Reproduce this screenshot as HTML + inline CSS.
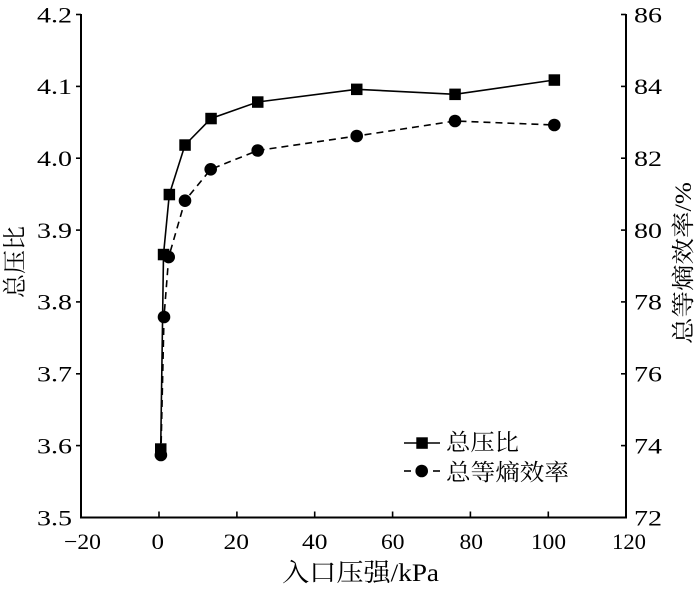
<!DOCTYPE html>
<html>
<head>
<meta charset="utf-8">
<style>
  html, body { margin:0; padding:0; background:#fff; }
  svg { display:block; }
  text { font-family: "Liberation Serif", "Noto Serif CJK SC", serif; fill:#000; }
</style>
</head>
<body>
<svg width="700" height="591" viewBox="0 0 700 591" xmlns="http://www.w3.org/2000/svg">
  <rect width="700" height="591" fill="#fff"/>

  <!-- axes -->
  <g stroke="#000" stroke-width="2" fill="none">
    <line x1="81" y1="14" x2="81" y2="518.5"/>
    <line x1="80" y1="517.5" x2="627" y2="517.5"/>
    <line x1="626" y1="14" x2="626" y2="518.5"/>
  </g>

  <!-- left ticks (outward) -->
  <g stroke="#000" stroke-width="1.6">
    <line x1="76" y1="14.5" x2="81" y2="14.5"/>
    <line x1="76" y1="86.4" x2="81" y2="86.4"/>
    <line x1="76" y1="158.2" x2="81" y2="158.2"/>
    <line x1="76" y1="230.1" x2="81" y2="230.1"/>
    <line x1="76" y1="301.9" x2="81" y2="301.9"/>
    <line x1="76" y1="373.8" x2="81" y2="373.8"/>
    <line x1="76" y1="445.6" x2="81" y2="445.6"/>
  </g>
  <!-- right ticks (inward) -->
  <g stroke="#000" stroke-width="1.6">
    <line x1="621" y1="14.5" x2="626" y2="14.5"/>
    <line x1="621" y1="86.4" x2="626" y2="86.4"/>
    <line x1="621" y1="158.2" x2="626" y2="158.2"/>
    <line x1="621" y1="230.1" x2="626" y2="230.1"/>
    <line x1="621" y1="301.9" x2="626" y2="301.9"/>
    <line x1="621" y1="373.8" x2="626" y2="373.8"/>
    <line x1="621" y1="445.6" x2="626" y2="445.6"/>
  </g>
  <!-- bottom ticks (inward) -->
  <g stroke="#000" stroke-width="1.6">
    <line x1="159" y1="511.5" x2="159" y2="517.5"/>
    <line x1="236.9" y1="511.5" x2="236.9" y2="517.5"/>
    <line x1="314.7" y1="511.5" x2="314.7" y2="517.5"/>
    <line x1="392.6" y1="511.5" x2="392.6" y2="517.5"/>
    <line x1="470.4" y1="511.5" x2="470.4" y2="517.5"/>
    <line x1="548.3" y1="511.5" x2="548.3" y2="517.5"/>
  </g>

  <!-- left tick labels -->
  <g font-size="22.5">
    <text x="37" y="22.3" textLength="35" lengthAdjust="spacingAndGlyphs">4.2</text>
    <text x="37" y="94.2" textLength="35" lengthAdjust="spacingAndGlyphs">4.1</text>
    <text x="37" y="166" textLength="35" lengthAdjust="spacingAndGlyphs">4.0</text>
    <text x="37" y="237.9" textLength="35" lengthAdjust="spacingAndGlyphs">3.9</text>
    <text x="37" y="309.7" textLength="35" lengthAdjust="spacingAndGlyphs">3.8</text>
    <text x="37" y="381.6" textLength="35" lengthAdjust="spacingAndGlyphs">3.7</text>
    <text x="37" y="453.4" textLength="35" lengthAdjust="spacingAndGlyphs">3.6</text>
    <text x="37" y="525.3" textLength="35" lengthAdjust="spacingAndGlyphs">3.5</text>
  </g>

  <!-- right tick labels -->
  <g font-size="22.5">
    <text x="634" y="22.3" textLength="28" lengthAdjust="spacingAndGlyphs">86</text>
    <text x="634" y="94.2" textLength="28" lengthAdjust="spacingAndGlyphs">84</text>
    <text x="634" y="166" textLength="28" lengthAdjust="spacingAndGlyphs">82</text>
    <text x="634" y="237.9" textLength="28" lengthAdjust="spacingAndGlyphs">80</text>
    <text x="634" y="309.7" textLength="28" lengthAdjust="spacingAndGlyphs">78</text>
    <text x="634" y="381.6" textLength="28" lengthAdjust="spacingAndGlyphs">76</text>
    <text x="634" y="453.4" textLength="28" lengthAdjust="spacingAndGlyphs">74</text>
    <text x="634" y="525.3" textLength="28" lengthAdjust="spacingAndGlyphs">72</text>
  </g>

  <!-- bottom tick labels -->
  <g font-size="22.5">
    <text x="64" y="549" textLength="37" lengthAdjust="spacingAndGlyphs">−20</text>
    <text x="151.5" y="549" textLength="12.5" lengthAdjust="spacingAndGlyphs">0</text>
    <text x="223.5" y="549" textLength="25.5" lengthAdjust="spacingAndGlyphs">20</text>
    <text x="302" y="549" textLength="25.5" lengthAdjust="spacingAndGlyphs">40</text>
    <text x="381" y="549" textLength="23.5" lengthAdjust="spacingAndGlyphs">60</text>
    <text x="459.5" y="549" textLength="23.5" lengthAdjust="spacingAndGlyphs">80</text>
    <text x="531" y="549" textLength="35" lengthAdjust="spacingAndGlyphs">100</text>
    <text x="612" y="549" textLength="34" lengthAdjust="spacingAndGlyphs">120</text>
  </g>

  <!-- axis titles -->
  <text x="282" y="581" font-size="25" textLength="157" lengthAdjust="spacingAndGlyphs">入口压强/kPa</text>
  <text transform="translate(23,262) rotate(-90)" text-anchor="middle" font-size="24" textLength="72" lengthAdjust="spacingAndGlyphs">总压比</text>
  <text transform="translate(691,263) rotate(-90)" text-anchor="middle" font-size="23" textLength="162" lengthAdjust="spacingAndGlyphs">总等熵效率/%</text>

  <!-- series lines -->
  <polyline fill="none" stroke="#000" stroke-width="1.6"
    points="160.7,449 163.5,254.5 169.3,194.5 185,145 211,118.5 257.7,102 356.7,89.3 455,94.3 554.3,80"/>
  <polyline fill="none" stroke="#000" stroke-width="1.6" stroke-dasharray="7,5"
    points="160.9,455 164,317 168.7,257 185,200.7 210.7,169.3 257.7,150.5 356.7,136 455,121 554.3,125"/>

  <!-- circle markers -->
  <g fill="#000">
    <circle cx="160.9" cy="455" r="6.3"/>
    <circle cx="164" cy="317" r="6.3"/>
    <circle cx="168.7" cy="257" r="6.3"/>
    <circle cx="185" cy="200.7" r="6.3"/>
    <circle cx="210.7" cy="169.3" r="6.3"/>
    <circle cx="257.7" cy="150.5" r="6.3"/>
    <circle cx="356.7" cy="136" r="6.3"/>
    <circle cx="455" cy="121" r="6.3"/>
    <circle cx="554.3" cy="125" r="6.3"/>
  </g>
  <!-- square markers -->
  <g fill="#000">
    <rect x="155" y="443.3" width="11.5" height="11.5"/>
    <rect x="157.8" y="248.8" width="11.5" height="11.5"/>
    <rect x="163.6" y="188.8" width="11.5" height="11.5"/>
    <rect x="179.3" y="139.3" width="11.5" height="11.5"/>
    <rect x="205.3" y="112.8" width="11.5" height="11.5"/>
    <rect x="252" y="96.3" width="11.5" height="11.5"/>
    <rect x="351" y="83.6" width="11.5" height="11.5"/>
    <rect x="449.3" y="88.6" width="11.5" height="11.5"/>
    <rect x="548.6" y="74.3" width="11.5" height="11.5"/>
  </g>

  <!-- legend -->
  <line x1="404" y1="443" x2="440" y2="443" stroke="#000" stroke-width="1.6"/>
  <rect x="416.3" y="437.3" width="11.5" height="11.5" fill="#000"/>
  <text x="446" y="450" font-size="23" textLength="73" lengthAdjust="spacingAndGlyphs">总压比</text>

  <line x1="404" y1="471" x2="411" y2="471" stroke="#000" stroke-width="1.6"/>
  <line x1="433" y1="471" x2="440" y2="471" stroke="#000" stroke-width="1.6"/>
  <circle cx="421.7" cy="471" r="6.3" fill="#000"/>
  <text x="446" y="480" font-size="23" textLength="123" lengthAdjust="spacingAndGlyphs">总等熵效率</text>
</svg>
</body>
</html>
